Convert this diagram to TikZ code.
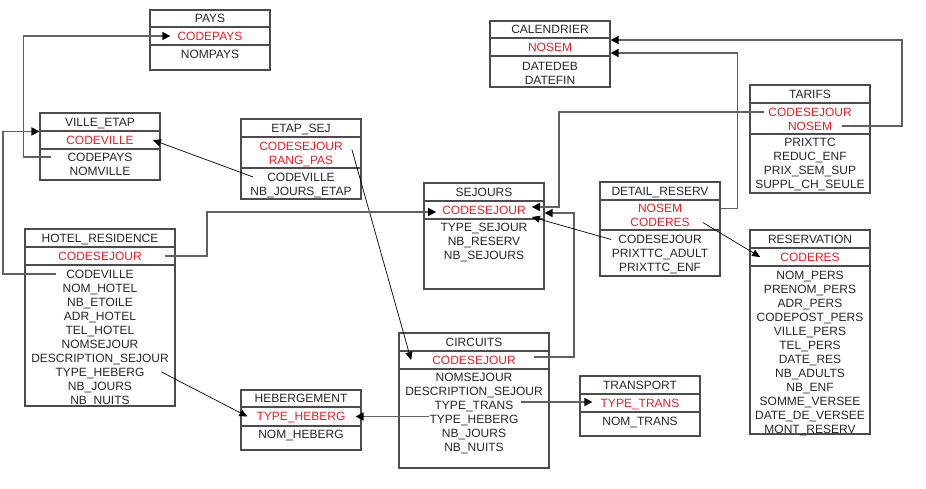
\documentclass[tikz,border=0pt]{standalone}
\usepackage{fontspec}
\setmainfont{Liberation Sans}
\usepackage{tikz}
\usetikzlibrary{arrows.meta}
\definecolor{keyred}{RGB}{232,30,36}

\begin{document}
\begin{tikzpicture}[x=1pt,y=-1pt,font=\fontsize{12}{14}\selectfont,
  cell/.style={draw=black!70, line width=1.1pt, minimum width=120pt, inner sep=0pt, text height=8.6pt, text depth=0pt, text=black!85},
  att/.style={inner sep=0pt, text height=8.6pt, text depth=0pt, text=black!85},
  pk/.style={att, text=keyred},
  fk/.style={draw=black!62, line width=1.5pt, -{Triangle[length=8pt,width=8pt,color=black]}},
  fkd/.style={draw=black, line width=0.7pt, -{Triangle[length=8pt,width=7pt]}}]
  \useasboundingbox (0,0) rectangle (926,488);
  % \draw[step=10,thin,gray!40] (0,0) grid (926,488);

  % PAYS
  \node[cell, minimum height=17pt] (pays) at (210,18.5) {PAYS};
  \node[cell, minimum height=18pt] (paysKey) at (210,36) {};
  \node[cell, minimum height=25pt] (paysAtt) at (210,57.5) {};
  \node[pk] (pays-k) at (210,36) {CODEPAYS};
  \node[att] (pays-1) at (210,54) {NOMPAYS};

  % VILLE_ETAP
  \node[cell, minimum height=18pt] (ville) at (100,122) {VILLE\_ETAP};
  \node[cell, minimum height=18pt] (villeKey) at (100,140) {};
  \node[cell, minimum height=31pt] (villeAtt) at (100,164.5) {};
  \node[pk] (ville-k) at (100,140) {CODEVILLE};
  \foreach \t [count=\i] in {CODEPAYS, NOMVILLE}
    \node[att] (ville-\i) at (100,143+14*\i) {\t};

  % ETAP_SEJ
  \node[cell, minimum height=18pt] (etap) at (301,128) {ETAP\_SEJ};
  \node[cell, minimum height=31pt] (etapKey) at (301,152.5) {};
  \node[cell, minimum height=31pt] (etapAtt) at (301,183.5) {};
  \node[pk] (etap-k1) at (301,146.5) {CODESEJOUR};
  \node[pk] (etap-k2) at (301,160.5) {RANG\_PAS};
  \foreach \t [count=\i] in {CODEVILLE, NB\_JOURS\_ETAP}
    \node[att] (etap-\i) at (301,163+14*\i) {\t};

  % HOTEL_RESIDENCE
  \node[cell, minimum width=150pt, minimum height=18pt] (hotel) at (100,238) {HOTEL\_RESIDENCE};
  \node[cell, minimum width=150pt, minimum height=18pt] (hotelKey) at (100,256) {};
  \node[cell, minimum width=150pt, minimum height=141pt] (hotelAtt) at (100,335.5) {};
  \node[pk] (hotel-k) at (100,256) {CODESEJOUR};
  \foreach \t [count=\i] in {CODEVILLE, NOM\_HOTEL, NB\_ETOILE, ADR\_HOTEL, TEL\_HOTEL, NOMSEJOUR, DESCRIPTION\_SEJOUR, TYPE\_HEBERG, NB\_JOURS, NB\_NUITS}
    \node[att] (hotel-\i) at (100,260+14*\i) {\t};

  % HEBERGEMENT
  \node[cell, minimum height=17pt] (heb) at (301,398.5) {HEBERGEMENT};
  \node[cell, minimum height=19pt] (hebKey) at (301,416.5) {};
  \node[cell, minimum height=24pt] (hebAtt) at (301,438) {};
  \node[pk] (heb-k) at (301,416.5) {TYPE\_HEBERG};
  \node[att] (heb-1) at (301,434.5) {NOM\_HEBERG};

  % CALENDRIER
  \node[cell, minimum height=17pt] (cal) at (550,29.5) {CALENDRIER};
  \node[cell, minimum height=18pt] (calKey) at (550,47) {};
  \node[cell, minimum height=31pt] (calAtt) at (550,71.5) {};
  \node[pk] (cal-k) at (550,47) {NOSEM};
  \foreach \t [count=\i] in {DATEDEB, DATEFIN}
    \node[att] (cal-\i) at (550,52+14*\i) {\t};

  % TARIFS
  \node[cell, minimum height=18pt] (tar) at (810,94) {TARIFS};
  \node[cell, minimum height=31pt] (tarKey) at (810,118.5) {};
  \node[cell, minimum height=59pt] (tarAtt) at (810,163.5) {};
  \node[pk] (tar-k1) at (810,112) {CODESEJOUR};
  \node[pk] (tar-k2) at (810,126) {NOSEM};
  \foreach \t [count=\i] in {PRIXTTC, REDUC\_ENF, PRIX\_SEM\_SUP, SUPPL\_CH\_SEULE}
    \node[att] (tar-\i) at (810,128.5+14*\i) {\t};

  % SEJOURS
  \node[cell, minimum height=18pt] (sej) at (484,192) {SEJOURS};
  \node[cell, minimum height=18pt] (sejKey) at (484,210) {};
  \node[cell, minimum height=70pt] (sejAtt) at (484,254) {};
  \node[pk] (sej-k) at (484,210) {CODESEJOUR};
  \foreach \t [count=\i] in {TYPE\_SEJOUR, NB\_RESERV, NB\_SEJOURS}
    \node[att] (sej-\i) at (484,213.5+14*\i) {\t};

  % DETAIL_RESERV
  \node[cell, minimum height=18pt] (det) at (660,191) {DETAIL\_RESERV};
  \node[cell, minimum height=30pt] (detKey) at (660,215) {};
  \node[cell, minimum height=46pt] (detAtt) at (660,253) {};
  \node[pk] (det-k1) at (660,208.5) {NOSEM};
  \node[pk] (det-k2) at (660,222.5) {CODERES};
  \foreach \t [count=\i] in {CODESEJOUR, PRIXTTC\_ADULT, PRIXTTC\_ENF}
    \node[att] (det-\i) at (660,225.5+14*\i) {\t};

  % RESERVATION
  \node[cell, minimum height=18pt] (res) at (810,239) {RESERVATION};
  \node[cell, minimum height=18pt] (resKey) at (810,257) {};
  \node[cell, minimum height=168pt] (resAtt) at (810,350) {};
  \node[pk] (res-k) at (810,257) {CODERES};
  \foreach \t [count=\i] in {NOM\_PERS, PRENOM\_PERS, ADR\_PERS, CODEPOST\_PERS, VILLE\_PERS, TEL\_PERS, DATE\_RES, NB\_ADULTS, NB\_ENF, SOMME\_VERSEE, DATE\_DE\_VERSEE, MONT\_RESERV}
    \node[att] (res-\i) at (810,261+14*\i) {\t};

  % CIRCUITS
  \node[cell, minimum width=150pt, minimum height=18pt] (circ) at (474,342) {CIRCUITS};
  \node[cell, minimum width=150pt, minimum height=18pt] (circKey) at (474,360) {};
  \node[cell, minimum width=150pt, minimum height=99pt] (circAtt) at (474,418.5) {};
  \node[pk] (circ-k) at (474,360) {CODESEJOUR};
  \foreach \t [count=\i] in {NOMSEJOUR, DESCRIPTION\_SEJOUR, TYPE\_TRANS, TYPE\_HEBERG, NB\_JOURS, NB\_NUITS}
    \node[att] (circ-\i) at (474,363.5+14*\i) {\t};

  % TRANSPORT
  \node[cell, minimum height=18pt] (trans) at (640,385) {TRANSPORT};
  \node[cell, minimum height=18pt] (transKey) at (640,403) {};
  \node[cell, minimum height=24pt] (transAtt) at (640,424) {};
  \node[pk] (trans-k) at (640,403) {TYPE\_TRANS};
  \node[att] (trans-1) at (640,421) {NOM\_TRANS};

  % links
  \draw[fk] ([xshift=-16pt]ville-1.west) -- ++(-28,0) |- ([xshift=-7pt]pays-k.west);
  \draw[fk] ([xshift=-10pt]hotel-1.west) -- ++(-53,0) |- ([yshift=-1pt]villeKey.north west);
  \draw[fkd] ([xshift=-14pt]etap-1.west) -- ([xshift=19pt]ville-k.east);
  \draw[fkd] ([xshift=9pt,yshift=-3pt]etap-k1.east) -- ([xshift=-21pt]circ-k.west);
  \draw[fk] ([xshift=23pt]hotel-k.east) -- ++(42,0) |- ([xshift=-6pt,yshift=-2pt]sej-k.west);
  \draw[fkd] ([xshift=17pt]hotel-8.east) -- ([xshift=-9pt]heb-k.west);
  \draw[fk] (circ-4.west |- heb-k) -- ([xshift=10pt]heb-k.east);
  \draw[fk] ([xshift=-4pt]tar-k1.west) -- ++(-205,0) |- ([xshift=6pt,yshift=3pt]sej-k.east);
  \draw[fk] ([xshift=18pt,yshift=3pt]circ-k.east) -- ++(40,0) |- ([yshift=-3pt]sejKey.east);
  \draw[fkd] ([xshift=-7pt]det-1.west) -- ([xshift=6pt,yshift=-7pt]sej-k.east);
  \draw[fk] ([xshift=10pt]tar-k2.east) -- ++(60,0) |- ([yshift=7pt]calKey.east);
  \draw[fk] (detKey.east |- det-k1) -- ++(17,0) |- ([yshift=-6pt]calKey.east);
  \draw[fkd] ([xshift=13pt]det-k2.east) -- ([xshift=-20pt]res-k.west);
  \draw[fk] ([xshift=7pt,yshift=3.5pt]circ-3.east) -- ([xshift=-8pt,yshift=1pt]trans-k.west);
\end{tikzpicture}
\end{document}
